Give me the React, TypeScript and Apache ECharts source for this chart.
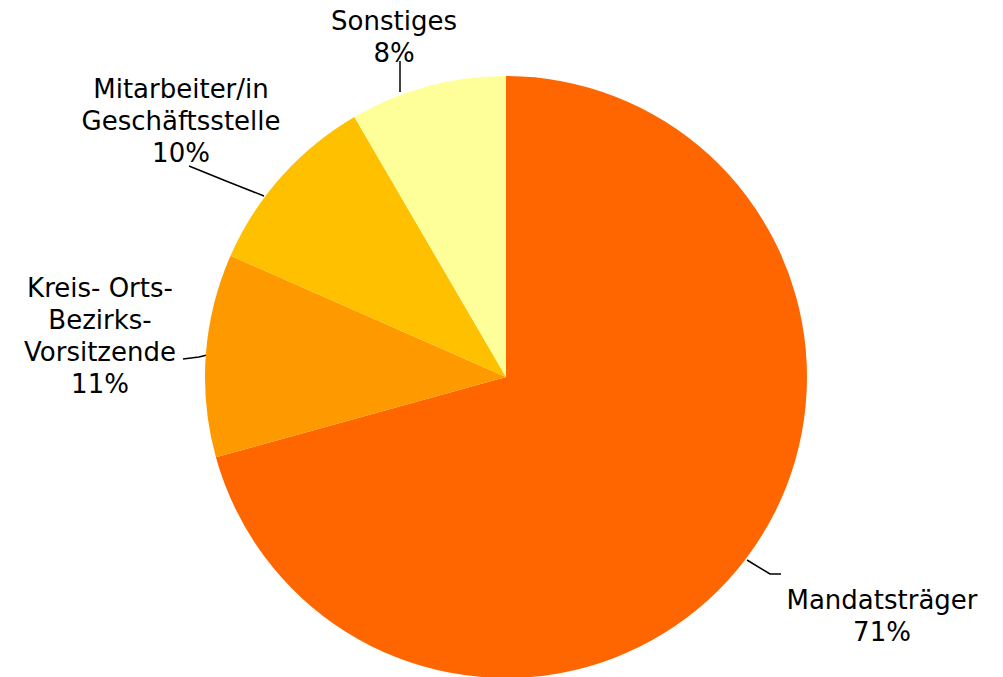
import React, { useEffect, useRef } from "react";
import * as echarts from "echarts";

const categories = [
  "Mandatsträger",
  "Kreis- Orts-\nBezirks-\nVorsitzende",
  "Mitarbeiter/in\nGeschäftsstelle",
  "Sonstiges",
];
const values = [70.7, 10.9, 10.0, 8.4];
const colors = ["#FF6600", "#FF9900", "#FFC000", "#FFFF99"];

// label block centres and leader line points (layout only)
const labelPos = [
  { x: 882, y: 616, line: [[747, 560], [770, 574], [781, 574]] },
  { x: 100, y: 336, line: [[207, 355], [199, 357], [183, 359]] },
  { x: 181, y: 121, line: [[264, 196], [226, 181], [189, 166]] },
  { x: 394, y: 37, line: [[400, 92], [400, 76], [400, 61]] },
];

export default function App() {
  const ref = useRef<HTMLDivElement>(null);
  useEffect(() => {
    const chart = echarts.init(ref.current!, null, { renderer: "svg" });
    chart.setOption({
      animation: false,
      backgroundColor: "#ffffff",
      series: [
        {
          type: "pie",
          center: [506, 377],
          radius: 301,
          startAngle: 90,
          clockwise: true,
          avoidLabelOverlap: false,
          itemStyle: { borderWidth: 0 },
          label: {
            show: true,
            formatter: (p: any) => `${p.name}\n${Math.round(p.percent)}%`,
            fontFamily: "DejaVu Sans, Verdana, sans-serif",
            fontSize: 26,
            lineHeight: 32,
            color: "#000000",
            align: "center",
          },
          labelLine: {
            show: true,
            lineStyle: { color: "#000000", width: 1.5 },
          },
          labelLayout: (params: any) => {
            const p = labelPos[params.dataIndex];
            return {
              x: p.x,
              y: p.y,
              align: "center",
              verticalAlign: "middle",
              labelLinePoints: p.line,
            };
          },
          data: categories.map((name, i) => ({
            name,
            value: values[i],
            itemStyle: { color: colors[i] },
          })),
        },
      ],
    });
    return () => chart.dispose();
  }, []);
  return (
    <div
      ref={ref}
      style={{ position: "fixed", left: 0, top: 0, width: 1003, height: 677 }}
    />
  );
}
